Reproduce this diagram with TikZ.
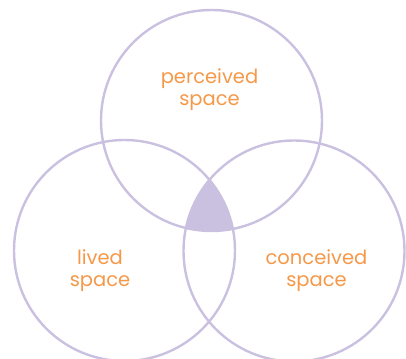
\documentclass[tikz,border=0pt]{standalone}
\usepackage{fontspec}
\setmainfont{Poppins}
\usetikzlibrary{positioning}
\definecolor{venn}{RGB}{202,193,224}
\definecolor{spaceorange}{RGB}{245,152,72}
\tikzset{
  space/.style={circle, draw=venn, line width=2.4pt, minimum size=221pt, inner sep=0pt},
  spacelabel/.style={text=spaceorange, font=\fontsize{19.5}{22}\selectfont, align=center, inner sep=0pt},
}

\begin{document}
\begin{tikzpicture}[x=1pt,y=1pt]
    \clip (0,0) rectangle (406,358);
    \coordinate (cp) at (211.5,237.5);
    \coordinate (cl) at (124.5,107.5);
    \coordinate (cc) at (294,107);

    % shared part of all three
    \begin{scope}
      \clip (cp) circle (110.5);
      \clip (cl) circle (110.5);
      \fill[venn] (cc) circle (110.5);
    \end{scope}

    \node[space] (perceived) at (cp) {};
    \node[space] (lived) at (cl) {};
    \node[space] (conceived) at (cc) {};

    \node[spacelabel] (perceivedtxt) at ([xshift=-2pt,yshift=31pt]perceived.center) {perceived\\space};
    \node[spacelabel] (livedtxt) at ([xshift=-24.5pt,yshift=-20pt]lived.center) {lived\\space};
    \node[spacelabel] (conceivedtxt) at ([xshift=22.5pt,yshift=-20pt]conceived.center) {conceived\\space};
\end{tikzpicture}
\end{document}
